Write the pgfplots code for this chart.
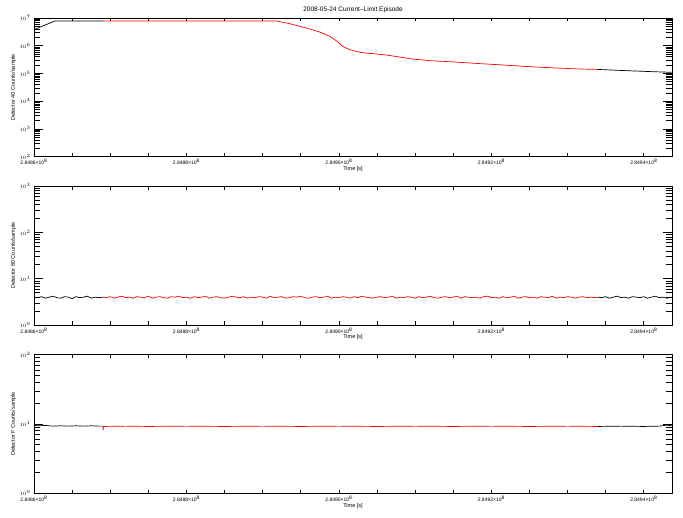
\documentclass[border=0pt]{standalone}
\usepackage{fontspec}
\setmainfont{Liberation Sans}
\usepackage{pgfplots}
\pgfplotsset{compat=1.18}
\usepackage{pgfplotstable}

% Top panel (Detector 40)
\pgfplotstableread{
t y
0 3.8e6
700 4.6e6
1400 5.5e6
2100 6.6e6
2750 7.8e6
9050 7.8e6
}\topblackA
\pgfplotstableread{
t y
9050 7.8e6
31870 7.8e6
33570 6.2e6
34880 5.0e6
36200 4.0e6
37510 3.1e6
38820 2.2e6
39740 1.45e6
40520 9.4e5
41440 7.2e5
42750 5.8e5
44070 5.3e5
46300 4.6e5
48000 3.9e5
49700 3.3e5
51930 2.9e5
54550 2.65e5
58090 2.3e5
62420 1.95e5
65440 1.73e5
68580 1.57e5
71600 1.45e5
73950 1.40e5
}\topred
\pgfplotstableread{
t y
73950 1.40e5
77760 1.26e5
81170 1.16e5
83660 1.10e5
}\topblackB

% Middle panel (Detector 80)
\pgfplotstableread{
t y
0 4.0
500 3.9
1000 4.1
1500 3.8
2000 4.0
2500 4.2
3000 3.9
3500 3.8
4000 4.1
4500 4.0
5000 3.7
5500 4.1
6000 3.9
6500 4.0
7000 4.2
7500 3.8
8000 4.0
8500 3.9
9050 4.0
}\midblackA
\pgfplotstableread{
t y
9050 4.0
9500 3.9
10000 4.1
10500 3.8
11000 4.0
11500 4.2
12000 3.9
12500 4.0
13000 3.8
13500 4.1
14000 4.0
14500 3.9
15000 4.2
15500 3.8
16000 4.0
16500 4.1
17000 3.9
17500 3.8
18000 4.1
18500 4.0
19000 4.2
19500 3.9
20000 4.0
20500 3.8
21000 4.1
21500 3.9
22000 4.0
22500 4.2
23000 3.8
23500 4.0
24000 4.1
24500 3.9
25000 3.8
25500 4.0
26000 4.2
26500 4.0
27000 3.9
27500 4.1
28000 3.8
28500 4.0
29000 3.9
29500 4.1
30000 4.0
30500 3.8
31000 4.2
31500 3.9
32000 4.0
32500 4.1
33000 3.8
33500 3.9
34000 4.1
34500 4.0
35000 4.2
35500 3.9
36000 3.8
36500 4.0
37000 4.1
37500 3.9
38000 4.0
38500 4.2
39000 3.8
39500 4.0
40000 3.9
40500 4.1
41000 4.0
41500 3.8
42000 4.1
42500 3.9
43000 4.2
43500 4.0
44000 3.9
44500 3.8
45000 4.0
45500 4.1
46000 3.9
46500 4.0
47000 4.2
47500 3.8
48000 4.0
48500 3.9
49000 4.1
49500 4.0
50000 3.8
50500 4.1
51000 3.9
51500 4.0
52000 4.2
52500 3.9
53000 3.8
53500 4.0
54000 4.1
54500 3.9
55000 4.0
55500 4.2
56000 3.8
56500 4.1
57000 4.0
57500 3.9
58000 4.0
58500 3.8
59000 4.1
59500 4.2
60000 3.9
60500 4.0
61000 3.8
61500 4.1
62000 3.9
62500 4.0
63000 4.2
63500 3.8
64000 4.0
64500 4.1
65000 3.9
65500 4.0
66000 3.8
66500 4.1
67000 4.0
67500 3.9
68000 4.2
68500 3.8
69000 4.0
69500 3.9
70000 4.1
70500 4.0
71000 3.8
71500 4.0
72000 4.1
72500 3.9
73000 4.0
73500 3.9
73950 4.0
}\midred
\pgfplotstableread{
t y
73950 4.0
74500 3.9
75000 4.1
75500 3.8
76000 4.0
76500 4.2
77000 3.9
77500 4.0
78000 3.8
78500 4.1
79000 4.0
79500 3.9
80000 4.1
80500 3.8
81000 4.0
81500 4.2
82000 3.9
82500 4.0
83000 3.8
83700 4.0
}\midblackB

% Bottom panel (Detector F)
\pgfplotstableread{
t y
0 9.6
500 9.4
1500 9.5
2500 9.3
3500 9.4
4500 9.3
5500 9.4
6500 9.3
7500 9.4
8500 9.3
9050 9.3
}\botblackA
\pgfplotstableread{
t y
9050 9.3
9060 8.1
9120 9.2
12000 9.3
15000 9.2
20000 9.3
25000 9.2
30000 9.3
35000 9.2
40000 9.3
45000 9.2
50000 9.3
55000 9.2
60000 9.3
65000 9.2
70000 9.3
73950 9.2
}\botred
\pgfplotstableread{
t y
73950 9.2
77000 9.3
80000 9.2
82000 9.3
83000 9.6
83700 9.4
}\botblackB

\pgfplotsset{
  panel/.style={
    scale only axis,
    width=638pt, height=138.7pt,
    anchor=south west,
    xmin=0, xmax=83700,
    axis line style={line width=0.9pt},
    tick align=inside,
    xtick pos=both, ytick pos=both,
    xtick=\empty,
    extra x ticks={0,5000,10000,15000,20000,25000,30000,35000,40000,45000,50000,55000,60000,65000,70000,75000,80000},
    extra x tick labels={2.8486×10\textsuperscript{8},,,,2.8488×10\textsuperscript{8},,,,2.8490×10\textsuperscript{8},,,,2.8492×10\textsuperscript{8},,,,2.8494×10\textsuperscript{8}},
    extra x tick style={major tick length=3.5pt, xticklabel style={yshift=1pt}},
    major tick length=9pt, minor tick length=6pt,
    tick style={line width=0.7pt, black},
    tick label style={font=\fontsize{5}{6}\selectfont},
    label style={font=\fontsize{5.5}{6.5}\selectfont},
    xlabel={Time [s]},
    xlabel style={yshift=5pt},
    ylabel style={yshift=-3pt},
    clip=true,
  },
  blk/.style={black, line width=0.7pt},
  rd/.style={red, line width=0.7pt},
}

\begin{document}
\begin{tikzpicture}
\useasboundingbox (0pt,0pt) rectangle (683pt,518pt);
\begin{axis}[ymode=log, panel, at={(34pt,361.3pt)}, ymin=1e2, ymax=1e7,
  ytick={1e2,1e3,1e4,1e5,1e6,1e7},
  ylabel={Detector 40 Counts/sample},
  title={2008-05-24 Current--Limit Episode},
  title style={font=\fontsize{6.5}{7.5}\selectfont, yshift=-4pt}]
\addplot[blk] table[x=t,y=y] {\topblackA};
\addplot[rd] table[x=t,y=y] {\topred};
\addplot[blk] table[x=t,y=y] {\topblackB};
\end{axis}
\begin{axis}[ymode=log, panel, at={(34pt,193pt)}, ymin=1e0, ymax=1e3,
  ytick={1e0,1e1,1e2,1e3},
  ylabel={Detector 80 Counts/sample}]
\addplot[blk] table[x=t,y=y] {\midblackA};
\addplot[rd] table[x=t,y=y] {\midred};
\addplot[blk] table[x=t,y=y] {\midblackB};
\end{axis}
\begin{axis}[ymode=log, panel, at={(34pt,24.7pt)}, ymin=1e0, ymax=1e2,
  ytick={1e0,1e1,1e2},
  ylabel={Detector F Counts/sample}]
\addplot[blk] table[x=t,y=y] {\botblackA};
\addplot[rd] table[x=t,y=y] {\botred};
\addplot[blk] table[x=t,y=y] {\botblackB};
\end{axis}
\end{tikzpicture}
\end{document}
